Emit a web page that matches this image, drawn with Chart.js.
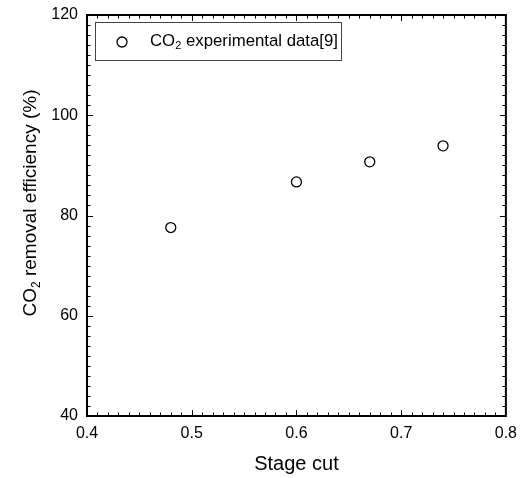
<!DOCTYPE html>
<html>
<head>
<meta charset="utf-8">
<script src="https://cdn.jsdelivr.net/npm/chart.js@4.4.1/dist/chart.umd.min.js"></script>
<style>
  html, body { margin: 0; padding: 0; background: #fff; }
  #wrap { width: 525px; height: 478px; }
</style>
</head>
<body>
<div id="wrap"><canvas id="chart" width="525" height="478"></canvas></div>
<script>
// data
const stageCut = [0.48, 0.60, 0.67, 0.74];
const removalEff = [77.6, 86.7, 90.7, 93.9];
const xRange = [0.4, 0.8];
const yRange = [40, 120];
const xMinorStep = 0.01;
const yMinorStep = 2;
const xTitle = 'Stage cut';
const yTitleParts = ['CO', '2', ' removal efficiency (%)'];
const legendParts = ['CO', '2', ' experimental data[9]'];

const FONT = '"Liberation Sans", Arial, sans-serif';

// draws "CO" + subscript + rest starting at x (baseline middle)
function drawSubText(c, parts, x, y, size) {
  c.textBaseline = 'middle';
  c.textAlign = 'left';
  c.font = size + 'px ' + FONT;
  c.fillText(parts[0], x, y);
  x += c.measureText(parts[0]).width;
  c.font = Math.round(size * 0.65) + 'px ' + FONT;
  c.fillText(parts[1], x, y + size * 0.3);
  x += c.measureText(parts[1]).width;
  c.font = size + 'px ' + FONT;
  c.fillText(parts[2], x, y);
}

function subTextWidth(c, parts, size) {
  c.font = size + 'px ' + FONT;
  let w = c.measureText(parts[0]).width + c.measureText(parts[2]).width;
  c.font = Math.round(size * 0.65) + 'px ' + FONT;
  return w + c.measureText(parts[1]).width;
}

const framePlugin = {
  id: 'frame',
  afterDraw(chart) {
    const c = chart.ctx;
    const a = chart.chartArea;
    const xs = chart.scales.x, ys = chart.scales.y;
    c.save();
    c.strokeStyle = '#000';
    c.lineWidth = 1;
    c.beginPath();
    // x ticks, bottom and top, pointing inwards
    const nx = Math.round((xRange[1] - xRange[0]) / xMinorStep);
    for (let i = 1; i < nx; i++) {
      const px = Math.round(xs.getPixelForValue(xRange[0] + i * xMinorStep)) + 0.5;
      const len = i % 10 === 0 ? 6 : 3.5;
      c.moveTo(px, a.bottom); c.lineTo(px, a.bottom - len);
      c.moveTo(px, a.top); c.lineTo(px, a.top + len);
    }
    const ny = Math.round((yRange[1] - yRange[0]) / yMinorStep);
    for (let i = 1; i < ny; i++) {
      const py = Math.round(ys.getPixelForValue(yRange[0] + i * yMinorStep)) + 0.5;
      const len = i % 10 === 0 ? 6 : 3.5;
      c.moveTo(a.left, py); c.lineTo(a.left + len, py);
      c.moveTo(a.right, py); c.lineTo(a.right - len, py);
    }
    c.stroke();
    c.lineWidth = 2;
    c.strokeRect(a.left, a.top, a.right - a.left, a.bottom - a.top);

    // y axis title with subscript
    c.fillStyle = '#000';
    c.translate(31, 203);
    c.rotate(-Math.PI / 2);
    const w = subTextWidth(c, yTitleParts, 19);
    drawSubText(c, yTitleParts, -w / 2, 0, 19);
    c.restore();

    // legend box inside the plot
    c.save();
    c.strokeStyle = '#444';
    c.lineWidth = 1;
    c.strokeRect(95.5, 22.5, 246, 38);
    c.beginPath();
    c.arc(122, 42, 5, 0, Math.PI * 2);
    c.fillStyle = '#fff';
    c.fill();
    c.lineWidth = 1.3;
    c.strokeStyle = '#000';
    c.stroke();
    c.fillStyle = '#000';
    drawSubText(c, legendParts, 150, 41, 16.8);
    c.restore();
  }
};

const ctx = document.getElementById('chart').getContext('2d');
new Chart(ctx, {
  type: 'scatter',
  data: {
    datasets: [{
      label: legendParts.join(''),
      data: stageCut.map((x, i) => ({ x, y: removalEff[i] })),
      pointStyle: 'circle',
      pointRadius: 5,
      pointBorderWidth: 1.3,
      borderColor: '#000',
      backgroundColor: '#fff'
    }]
  },
  options: {
    responsive: false,
    animation: false,
    layout: { padding: { top: 15, right: 13, left: 0, bottom: 0 } },
    plugins: { legend: { display: false }, tooltip: { enabled: false } },
    scales: {
      x: {
        type: 'linear',
        min: xRange[0], max: xRange[1],
        afterFit(s) { s.height = 62; },
        grid: { display: false, drawTicks: false },
        border: { display: false },
        ticks: {
          stepSize: 0.1, padding: 8, color: '#000',
          font: { family: FONT, size: 16 },
          callback: v => v.toFixed(1)
        },
        title: {
          display: true, text: xTitle, color: '#000',
          font: { family: FONT, size: 20 },
          padding: { top: 0, bottom: 2 }
        }
      },
      y: {
        type: 'linear',
        min: yRange[0], max: yRange[1],
        afterFit(s) { s.width = 87; s.paddingTop = 0; s.paddingBottom = 0; },
        grid: { display: false, drawTicks: false },
        border: { display: false },
        ticks: {
          stepSize: 20, padding: 9, color: '#000',
          font: { family: FONT, size: 16 }
        }
      }
    }
  },
  plugins: [framePlugin]
});
</script>
</body>
</html>
